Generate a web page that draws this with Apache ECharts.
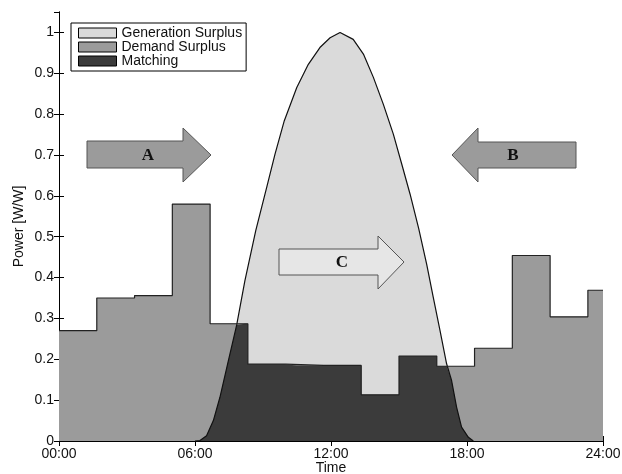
<!DOCTYPE html>
<html>
<head>
<meta charset="utf-8">
<script src="https://cdn.jsdelivr.net/npm/echarts@6/dist/echarts.min.js"></script>
<style>html,body{margin:0;padding:0;background:#fff}#c{width:622px;height:474px}</style>
</head>
<body>
<div id="c"></div>
<script>
// Demand step function: interval edges (hours) and values
const demandEdges = [0, 1.667, 3.333, 5, 6.667, 8.333, 10, 11.667, 13.333, 15, 16.667, 18.333, 20, 21.667, 23.333, 24];
const demandValues = [0.27, 0.35, 0.356, 0.58, 0.287, 0.188, 0.185, 0.185, 0.113, 0.208, 0.183, 0.227, 0.454, 0.304, 0.369];
// Generation curve
const genHours = [6.0, 6.22, 6.51, 6.81, 7.1, 7.44, 7.84, 8.2, 8.68, 9.16, 9.53, 9.94, 10.49, 11.0, 11.51, 11.96, 12.4, 12.98, 13.43, 13.87, 14.31, 14.75, 15.12, 15.49, 15.87, 16.22, 16.51, 16.81, 17.1, 17.32, 17.54, 17.76, 18.06, 18.28];
const genValues = [0, 0.001, 0.013, 0.05, 0.107, 0.189, 0.284, 0.392, 0.515, 0.62, 0.702, 0.784, 0.865, 0.922, 0.963, 0.987, 1.0, 0.983, 0.947, 0.89, 0.824, 0.751, 0.678, 0.604, 0.52, 0.433, 0.352, 0.27, 0.189, 0.148, 0.083, 0.034, 0.009, 0];
const xTicks = [0, 6, 12, 18, 24];
const legendNames = ['Generation Surplus', 'Demand Surplus', 'Matching'];

const colGen = '#dadada', colDem = '#9b9b9b', colMatch = '#3b3b3b';

function genAt(h) {
  const n = genHours.length;
  if (h <= genHours[0] || h >= genHours[n - 1]) return 0;
  for (let i = 0; i < n - 1; i++) {
    if (h >= genHours[i] && h <= genHours[i + 1]) {
      const t = (h - genHours[i]) / (genHours[i + 1] - genHours[i]);
      return genValues[i] + t * (genValues[i + 1] - genValues[i]);
    }
  }
  return 0;
}
function demAt(h) {
  for (let i = 0; i < demandValues.length; i++) {
    if (h >= demandEdges[i] && h < demandEdges[i + 1]) return demandValues[i];
  }
  return demandValues[demandValues.length - 1];
}
const genData = genHours.map((h, i) => [h, genValues[i]]);
const demData = [];
demandValues.forEach((v, i) => { demData.push([demandEdges[i], v]); demData.push([demandEdges[i + 1], v]); });

// Matching = min(gen, demand)
const g0 = genHours[0], g1 = genHours[genHours.length - 1];
let bps = genHours.slice();
demandEdges.forEach(e => { if (e > g0 && e < g1) bps.push(e); });
bps = Array.from(new Set(bps)).sort((a, b) => a - b);
const matchData = [];
for (let i = 0; i < bps.length - 1; i++) {
  const a = bps[i], b = bps[i + 1];
  const d = demAt((a + b) / 2);
  const ga = genAt(a), gb = genAt(b);
  matchData.push([a, Math.min(ga, d)]);
  if ((ga - d) * (gb - d) < 0) {
    const xc = a + (d - ga) / (gb - ga) * (b - a);
    matchData.push([xc, d]);
  }
  matchData.push([b, Math.min(gb, d)]);
}

const chart = echarts.init(document.getElementById('c'));
const font = 'Liberation Sans, Arial, sans-serif';
const axisCommon = {
  axisLine: { show: true, lineStyle: { color: '#000', width: 1 } },
  axisTick: { show: true, inside: true, length: 5, lineStyle: { color: '#000' } },
  splitLine: { show: false }
};
function arrow(pts, fill, label, lx, ly) {
  return [
    { type: 'polygon', shape: { points: pts }, style: { fill: fill, stroke: '#555', lineWidth: 1 }, z: 100 },
    { type: 'text', x: lx, y: ly, style: { text: label, font: 'bold 17px "Liberation Serif", "DejaVu Serif", serif', fill: '#111', textAlign: 'center', textVerticalAlign: 'middle' }, z: 101 }
  ];
}
chart.setOption({
  animation: false,
  grid: { left: 59, right: 19, top: 12, bottom: 33, containLabel: false, outerBoundsMode: 'none' },
  legend: {
    orient: 'vertical', left: 71, top: 23,
    padding: [3, 4, 3, 7],
    backgroundColor: '#fff', borderColor: '#000', borderWidth: 1, borderRadius: 0,
    itemWidth: 38, itemHeight: 10, itemGap: 0,
    textStyle: { fontFamily: font, fontSize: 14, color: '#111', lineHeight: 13 },
    data: [
      { name: legendNames[0], icon: 'rect', itemStyle: { color: colGen, borderColor: '#000', borderWidth: 1 } },
      { name: legendNames[1], icon: 'rect', itemStyle: { color: colDem, borderColor: '#000', borderWidth: 1 } },
      { name: legendNames[2], icon: 'rect', itemStyle: { color: colMatch, borderColor: '#000', borderWidth: 1 } }
    ]
  },
  xAxis: [
    Object.assign({
      type: 'value', min: 0, max: 24, interval: 6, position: 'bottom',
      name: 'Time', nameLocation: 'middle', nameGap: 20, nameMoveOverlap: false,
      nameTextStyle: { fontFamily: font, fontSize: 14, color: '#111' },
      axisLabel: { fontFamily: font, fontSize: 14, color: '#111', margin: 6,
        formatter: v => (v < 10 ? '0' : '') + v + ':00' }
    }, axisCommon),
    Object.assign({ type: 'value', min: 0, max: 24, interval: 6, position: 'top', axisLabel: { show: false } }, axisCommon)
  ],
  yAxis: [
    Object.assign({
      type: 'value', min: 0, max: 1.05, interval: 0.1, position: 'left',
      name: 'Power [W/W]', nameLocation: 'middle', nameGap: 33, nameMoveOverlap: false,
      nameTextStyle: { fontFamily: font, fontSize: 14, color: '#111' },
      axisLabel: { fontFamily: font, fontSize: 14, color: '#111', margin: 5, showMaxLabel: false }
    }, axisCommon),
    Object.assign({ type: 'value', min: 0, max: 1.05, interval: 0.1, position: 'right', axisLabel: { show: false } }, axisCommon)
  ],
  series: [
    { name: legendNames[0], type: 'line', data: genData, showSymbol: false, symbol: 'none',
      itemStyle: { color: colGen }, lineStyle: { width: 0 }, areaStyle: { color: colGen, opacity: 1 } },
    { name: legendNames[1], type: 'line', data: demData, showSymbol: false, symbol: 'none',
      itemStyle: { color: colDem }, lineStyle: { width: 0 }, areaStyle: { color: colDem, opacity: 1 } },
    { name: legendNames[2], type: 'line', data: matchData, showSymbol: false, symbol: 'none',
      itemStyle: { color: colMatch }, lineStyle: { width: 0 }, areaStyle: { color: colMatch, opacity: 1 } },
    { name: 'genOutline', type: 'line', data: genData, showSymbol: false, symbol: 'none',
      lineStyle: { color: '#111', width: 1.2 } },
    { name: 'demOutline', type: 'line', data: demData, showSymbol: false, symbol: 'none',
      lineStyle: { color: '#222', width: 1.2 } }
  ],
  graphic: [].concat(
    arrow([[87, 141], [183, 141], [183, 128], [211, 155], [183, 182], [183, 168], [87, 168]], colDem, 'A', 148, 156),
    arrow([[576, 142], [478, 142], [478, 128], [452, 155], [478, 182], [478, 168], [576, 168]], colDem, 'B', 513, 156),
    arrow([[279, 249], [378, 249], [378, 236], [404, 262], [378, 289], [378, 275], [279, 275]], '#e6e6e6', 'C', 342, 263)
  )
});
</script>
</body>
</html>
